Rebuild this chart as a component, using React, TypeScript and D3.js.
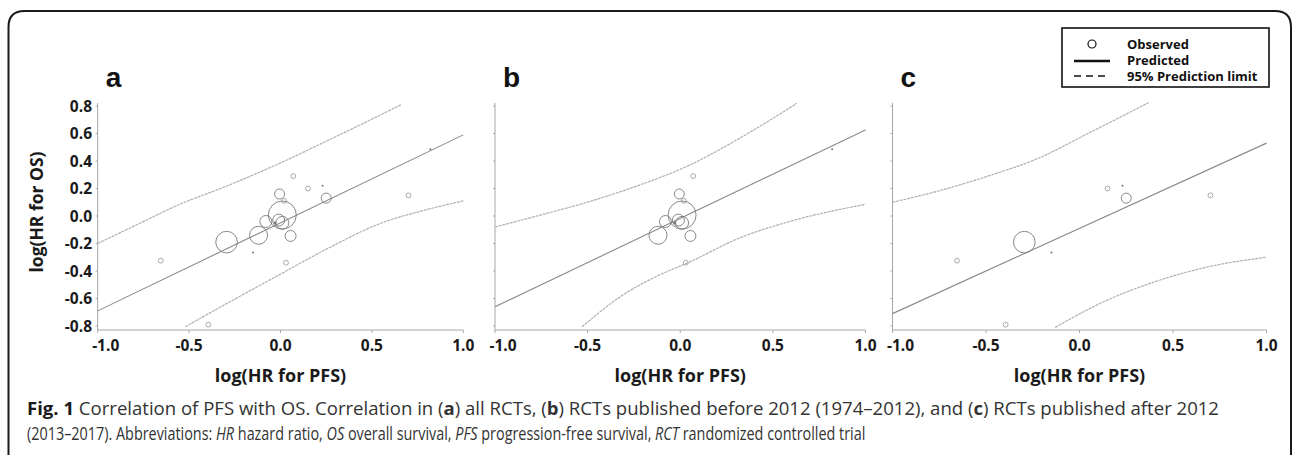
import React from 'react';
import * as d3 from 'd3';

const xTicks = [-1, -0.5, 0, 0.5, 1];
const yTicks = [0.8, 0.6, 0.4, 0.2, 0, -0.2, -0.4, -0.6, -0.8];

// one entry per trial: log(HR) for PFS, log(HR) for OS, marker weight, published after 2012
const pfsLogHR = [-0.655, -0.295, -0.15, -0.12, -0.08, -0.005, 0.02, 0.01, -0.01, 0.01, -0.03, 0.055, 0.03, 0.07, 0.15, 0.23, 0.25, 0.7, 0.82, -0.395];
const osLogHR = [-0.325, -0.19, -0.265, -0.14, -0.04, 0.16, 0.11, 0.007, -0.03, -0.05, -0.05, -0.145, -0.34, 0.29, 0.2, 0.22, 0.13, 0.15, 0.485, -0.79];
const trialWeight = [6, 117, 1, 81, 36, 25, 6, 196, 36, 42, 2, 30, 6, 6, 6, 1, 25, 6, 1, 6];
const after2012 = [true, true, true, false, false, false, false, false, false, false, false, false, false, false, true, true, true, true, false, true];

// regression line and 95% prediction limits
const predictedAll = [[-1, -0.69], [1, 0.59]];
const upperAll = [[-1, -0.2], [-0.78, -0.06], [-0.56, 0.08], [-0.29, 0.22], [-0.01, 0.38], [0.26, 0.55], [0.44, 0.665], [0.66, 0.81]];
const lowerAll = [[-0.52, -0.805], [-0.285, -0.63], [-0.01, -0.43], [0.26, -0.235], [0.535, -0.06], [0.81, 0.05], [1, 0.11]];

const predictedBefore = [[-1, -0.66], [1, 0.625]];
const upperBefore = [[-1, -0.08], [-0.76, 0.005], [-0.49, 0.105], [-0.22, 0.225], [0.05, 0.37], [0.32, 0.565], [0.5, 0.71], [0.63, 0.82]];
const lowerBefore = [[-0.53, -0.805], [-0.31, -0.575], [-0.13, -0.44], [0.05, -0.335], [0.32, -0.16], [0.59, -0.04], [1, 0.085]];

const predictedAfter = [[-1, -0.71], [1, 0.53]];
const upperAfter = [[-1, 0.1], [-0.76, 0.18], [-0.49, 0.29], [-0.22, 0.42], [0.045, 0.6], [0.22, 0.72], [0.37, 0.825]];
const lowerAfter = [[-0.13, -0.81], [0.135, -0.62], [0.4, -0.48], [0.67, -0.375], [1, -0.3]];

const legendLabels = ['Observed', 'Predicted', '95% Prediction limit'];

const trials = pfsLogHR.map((x, i) => ({ x, y: osLogHR[i], w: trialWeight[i], after: after2012[i] }));

const panels = [
  { letter: 'a', left: 97.7, right: 463.3, showY: true, data: trials, pred: predictedAll, upper: upperAll, lower: lowerAll },
  { letter: 'b', left: 495, right: 865.5, showY: false, data: trials.filter(d => !d.after), pred: predictedBefore, upper: upperBefore, lower: lowerBefore },
  { letter: 'c', left: 892.5, right: 1266.5, showY: false, data: trials.filter(d => d.after), pred: predictedAfter, upper: upperAfter, lower: lowerAfter },
];

const axisTop = 103;
const axisBottom = 330;
const tickFont = "'Open Sans', 'DejaVu Sans', sans-serif";

const y = d3.scaleLinear().domain([-0.8, 0.8]).range([326, 106]);
const r = d3.scaleSqrt().domain([0, 196]).range([0, 14]);

function Panel({ p }) {
  const x = d3.scaleLinear().domain([-1, 1]).range([p.left, p.right]);
  const line = d3.line().x(d => x(d[0])).y(d => y(d[1])).curve(d3.curveMonotoneX);
  return (
    <g>
      <text x={p.left + 8} y={87} fontFamily="'Liberation Sans', Arial, sans-serif" fontWeight="bold" fontSize={28} fill="#111">{p.letter}</text>
      <line x1={p.left} x2={p.left} y1={axisTop} y2={axisBottom} stroke="#a8a8a8" strokeWidth={1} />
      <line x1={p.left} x2={p.right} y1={axisBottom} y2={axisBottom} stroke="#a8a8a8" strokeWidth={1} />
      {yTicks.map(t => (
        <line key={'yt' + t} x1={p.left - 2} x2={p.left} y1={y(t)} y2={y(t)} stroke="#a8a8a8" />
      ))}
      {xTicks.map(t => (
        <g key={'xt' + t}>
          <line x1={x(t)} x2={x(t)} y1={axisBottom} y2={axisBottom + 3} stroke="#a8a8a8" />
          <text x={x(t) + (t === -1 ? 8 : 0)} y={350.5} textAnchor="middle" fontFamily={tickFont} fontWeight="bold" fontSize={15.5} fill="#1a1a1a">{t.toFixed(1)}</text>
        </g>
      ))}
      {p.showY && yTicks.map(t => (
        <text key={'yl' + t} x={92} y={y(t) + 5.5} textAnchor="end" fontFamily={tickFont} fontWeight="bold" fontSize={15.5} fill="#1a1a1a">{t.toFixed(1)}</text>
      ))}
      {p.showY && (
        <text transform="translate(43,212) rotate(-90)" textAnchor="middle" fontFamily={tickFont} fontWeight="bold" fontSize={17.5} fill="#1a1a1a">log(HR for OS)</text>
      )}
      <text x={(p.left + p.right) / 2} y={382} textAnchor="middle" fontFamily={tickFont} fontWeight="bold" fontSize={18} fill="#1a1a1a">log(HR for PFS)</text>
      <path d={line(p.upper)} fill="none" stroke="#b0b0b0" strokeWidth={1.2} strokeDasharray="3,0.8" />
      <path d={line(p.lower)} fill="none" stroke="#b0b0b0" strokeWidth={1.2} strokeDasharray="3,0.8" />
      <path d={line(p.pred)} fill="none" stroke="#8a8a8a" strokeWidth={1.1} />
      {p.data.map((d, i) => (
        <circle key={i} cx={x(d.x)} cy={y(d.y)} r={Math.max(r(d.w), 1)}
          fill={d.w <= 2 ? '#777' : 'none'} stroke={d.w <= 6 ? '#a0a0a0' : '#7a7a7a'} strokeWidth={d.w <= 2 ? 0 : 0.9} />
      ))}
    </g>
  );
}

export default function App() {
  return (
    <svg width={1293} height={455} style={{ position: 'absolute', left: 0, top: 0, background: '#fff' }}>
      <path d="M8.5,455 L8.5,27 Q8.5,11 24.5,11 L1275,11 Q1291,11 1291,27 L1291,455" fill="none" stroke="#1a1a1a" strokeWidth={2} />
      {panels.map(p => <Panel key={p.letter} p={p} />)}
      <g>
        <rect x={1062} y={28} width={207} height={59} fill="#fff" stroke="#111" strokeWidth={1.6} />
        <circle cx={1092} cy={44} r={4} fill="none" stroke="#111" strokeWidth={1.2} />
        <line x1={1074} x2={1110} y1={61} y2={61} stroke="#111" strokeWidth={2.5} />
        <line x1={1074} x2={1110} y1={76} y2={76} stroke="#111" strokeWidth={1.6} strokeDasharray="7,5" />
        {legendLabels.map((s, i) => (
          <text key={s} x={1127} y={48.5 + i * 16} fontFamily={tickFont} fontWeight="bold" fontSize={13} fill="#111">{s}</text>
        ))}
      </g>
      <text x={27} y={415} fontFamily={tickFont} fontSize={18} fill="#333" textLength={1192} lengthAdjust="spacingAndGlyphs">
        <tspan fontWeight="bold" fill="#1a1a1a">Fig. 1</tspan> Correlation of PFS with OS. Correlation in (<tspan fontWeight="bold">a</tspan>) all RCTs, (<tspan fontWeight="bold">b</tspan>) RCTs published before 2012 (1974–2012), and (<tspan fontWeight="bold">c</tspan>) RCTs published after 2012
      </text>
      <text transform="translate(27,440) scale(0.8,1)" fontFamily={tickFont} fontSize={18} fill="#333">
        (2013–2017). Abbreviations: <tspan fontStyle="italic">HR</tspan> hazard ratio, <tspan fontStyle="italic">OS</tspan> overall survival, <tspan fontStyle="italic">PFS</tspan> progression-free survival, <tspan fontStyle="italic">RCT</tspan> randomized controlled trial
      </text>
    </svg>
  );
}
